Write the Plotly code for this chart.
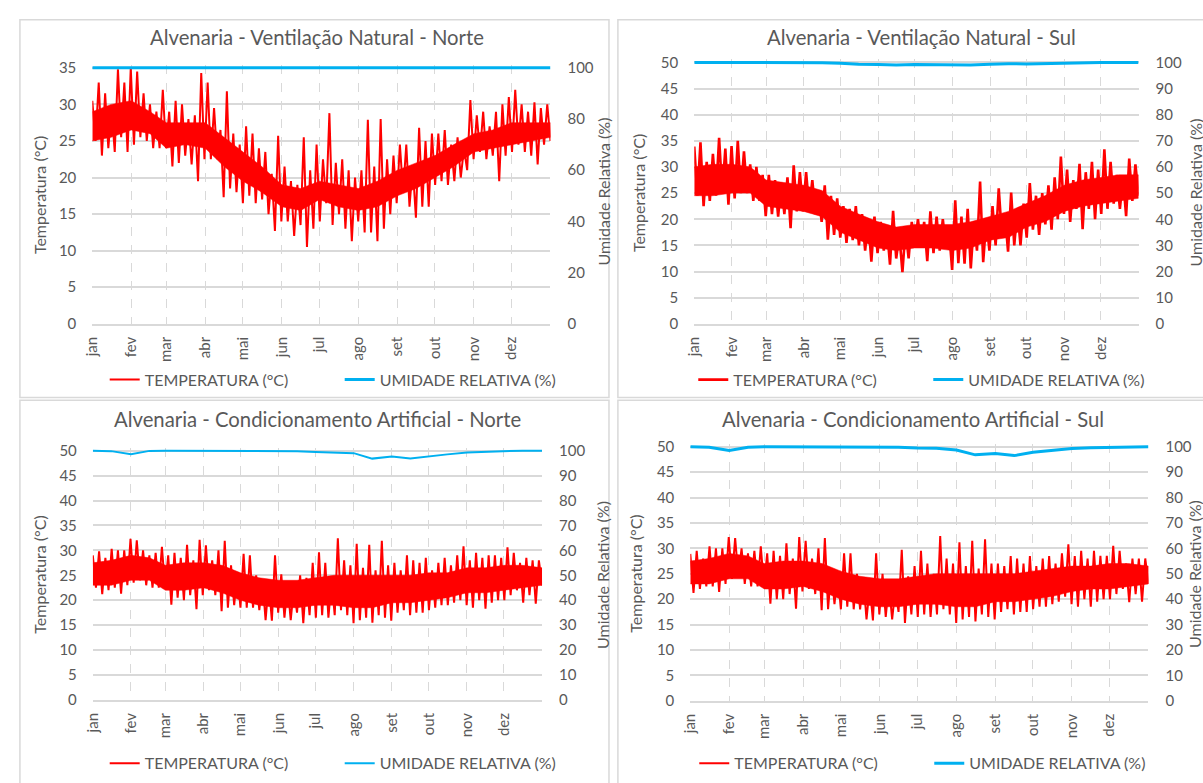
import numpy as np
import plotly.graph_objects as go

W, H = 1203, 783


def fx(p):
    return p / W


def fy(p):
    return 1 - p / H


MONTHS = ["jan", "fev", "mar", "abr", "mai", "jun", "jul", "ago", "set", "out", "nov", "dez"]
MONTH_START = [0, 31, 59, 90, 120, 151, 181, 212, 243, 273, 304, 334]

TITLES = [
    "Alvenaria - Ventilação Natural - Norte",
    "Alvenaria - Ventilação Natural - Sul",
    "Alvenaria - Condicionamento Artificial - Norte",
    "Alvenaria - Condicionamento Artificial - Sul",
]
SERIES_TEMP = "TEMPERATURA (°C)"
SERIES_HUM = "UMIDADE RELATIVA (%)"
Y_LEFT_TITLE = "Temperatura (°C)"
Y_RIGHT_TITLE = "Umidade Relativa (%)"

# ---- temperature peaks / troughs (6 of each per month) ----
vn_norte_tmax = [
    30.5, 33.0, 31.5, 29.5, 34.8, 33.0,
    35.0, 34.5, 31.5, 30.0, 29.0, 32.0,
    29.0, 30.5, 30.0, 28.0, 28.5, 34.3,
    33.0, 29.5, 26.5, 31.8, 26.0, 24.5,
    27.0, 26.0, 24.0, 23.5, 20.5, 25.7,
    21.5, 19.5, 19.0, 25.5, 21.0, 24.5,
    22.5, 28.8, 22.0, 22.5, 21.0, 20.0,
    21.0, 27.9, 21.5, 28.0, 22.5, 23.0,
    24.5, 24.5, 21.5, 26.8, 25.0, 26.0,
    26.0, 26.5, 24.5, 25.5, 24.0, 30.6,
    28.5, 29.0, 27.0, 29.0, 30.0, 31.0,
    32.0, 30.0, 29.0, 30.3, 29.5, 30.0,
]
vn_norte_tmin = [
    25.0, 23.0, 24.0, 23.5, 25.5, 23.5,
    24.5, 25.5, 25.0, 24.0, 24.0, 24.0,
    21.5, 22.0, 23.0, 21.8, 19.5, 22.5,
    22.5, 22.5, 17.3, 18.5, 18.0, 16.5,
    17.5, 16.5, 17.0, 15.0, 12.7, 14.0,
    14.0, 12.0, 13.5, 10.5, 13.0, 14.0,
    16.5, 13.5, 15.0, 13.0, 11.3, 14.0,
    12.5, 12.5, 11.3, 13.0, 15.0, 16.5,
    18.0, 16.0, 14.5, 16.0, 16.0, 19.0,
    19.5, 19.0, 19.5, 20.0, 21.0, 22.5,
    23.5, 22.5, 23.0, 19.5, 23.0, 23.5,
    24.5, 23.5, 23.0, 21.8, 24.5, 25.0,
]
vn_sul_tmax = [
    33.9, 34.7, 31.0, 32.5, 35.6, 33.5,
    34.0, 35.0, 33.0, 30.5, 30.0, 28.5,
    28.5, 27.5, 27.0, 28.0, 30.3, 29.0,
    29.0, 27.5, 25.0, 26.5, 24.5, 24.0,
    22.5, 22.0, 22.5, 21.0, 20.0, 20.5,
    19.5, 18.5, 21.6, 17.0, 18.0, 19.5,
    20.0, 19.5, 21.5, 20.5, 20.0, 18.0,
    23.6, 20.5, 22.0, 19.5, 27.2, 20.0,
    22.5, 25.9, 21.0, 25.1, 22.0, 23.0,
    26.9, 24.5, 25.0, 26.5, 28.0, 32.0,
    29.5, 27.5, 30.6, 29.0, 31.0, 29.5,
    33.4, 31.0, 28.5, 28.0, 31.6, 30.5,
]
vn_sul_tmin = [
    24.5, 22.5, 23.5, 24.5, 25.0, 22.8,
    24.0, 25.0, 25.0, 23.5, 23.5, 20.6,
    21.0, 20.5, 21.0, 18.3, 21.5, 21.5,
    22.0, 21.0, 19.5, 16.1, 17.0, 16.5,
    15.5, 16.0, 15.0, 14.0, 11.9, 13.5,
    14.0, 11.3, 12.5, 9.9, 12.5, 15.0,
    15.0, 12.0, 13.5, 14.0, 14.5, 10.3,
    11.6, 11.5, 10.6, 14.0, 11.8, 14.0,
    15.0, 17.0, 13.8, 15.0, 15.0, 16.5,
    18.0, 17.0, 19.0, 18.0, 20.0, 21.0,
    19.5, 22.0, 18.1, 22.0, 20.0, 21.0,
    22.0, 23.0, 22.0, 20.6, 23.5, 24.5,
]
ca_norte_tmax = [
    29.0, 29.8, 28.5, 30.3, 30.0, 30.0,
    32.3, 32.0, 30.0, 29.0, 29.5, 30.7,
    29.0, 29.5, 28.5, 31.1, 28.0, 32.1,
    31.0, 28.0, 30.0, 31.9, 27.0, 25.5,
    29.3, 29.0, 25.0, 24.0, 23.5, 29.0,
    25.2, 23.0, 22.5, 25.0, 24.5, 27.5,
    29.6, 27.5, 24.0, 32.4, 28.0, 27.0,
    31.3, 26.5, 31.1, 26.0, 31.9, 27.0,
    27.5, 26.0, 29.0, 28.0, 27.5, 28.5,
    26.0, 27.5, 28.5, 27.0, 29.0, 30.8,
    28.0, 29.5, 28.5, 29.0, 29.0, 28.5,
    30.6, 29.5, 27.5, 28.5, 28.0, 28.0,
]
ca_norte_tmin = [
    22.5, 21.2, 22.0, 22.5, 21.3, 23.0,
    23.5, 24.0, 23.0, 22.5, 22.5, 22.5,
    19.1, 20.5, 20.0, 21.0, 18.2, 21.0,
    22.0, 21.0, 17.8, 18.5, 19.0, 18.5,
    18.5, 18.5, 18.0, 16.0, 15.9, 17.5,
    16.5, 16.0, 17.5, 15.4, 17.0, 16.5,
    17.0, 16.5, 17.0, 18.0, 17.0, 15.4,
    16.0, 16.5, 15.5, 17.0, 16.5, 15.9,
    17.5, 18.0, 17.0, 17.5, 17.5, 18.0,
    18.5, 19.0, 19.0, 19.5, 20.0, 19.0,
    18.5, 20.0, 18.3, 19.5, 20.0, 20.0,
    21.0, 22.0, 19.5, 21.0, 19.3, 23.0,
]
ca_sul_tmax = [
    28.9, 29.5, 28.0, 30.4, 30.0, 30.0,
    32.2, 32.0, 30.0, 29.0, 29.5, 30.4,
    29.0, 29.5, 28.5, 31.0, 28.0, 32.2,
    31.5, 28.0, 30.0, 32.0, 26.0, 25.0,
    29.0, 29.0, 25.0, 24.0, 22.5, 29.0,
    25.0, 23.0, 22.0, 29.7, 24.5, 26.5,
    29.5, 27.0, 25.0, 32.4, 28.0, 27.0,
    31.2, 26.5, 31.5, 26.0, 31.8, 27.0,
    27.0, 26.5, 28.5, 28.0, 27.0, 28.5,
    26.5, 28.0, 28.5, 27.0, 29.0, 30.8,
    28.5, 29.5, 28.0, 29.5, 28.5, 28.5,
    30.5, 29.5, 27.0, 28.0, 28.0, 28.0,
]
ca_sul_tmin = [
    21.2, 22.0, 22.5, 22.5, 21.4, 23.0,
    24.0, 24.5, 23.0, 22.5, 22.5, 22.5,
    19.1, 20.0, 20.0, 21.0, 18.1, 21.5,
    22.0, 21.0, 17.8, 18.0, 19.0, 18.0,
    18.5, 18.0, 18.0, 16.0, 15.8, 17.0,
    16.5, 16.0, 17.5, 15.3, 17.0, 16.5,
    17.0, 16.5, 17.0, 18.0, 17.0, 15.3,
    16.0, 16.5, 15.6, 17.0, 16.5, 16.0,
    17.5, 18.0, 17.0, 17.5, 17.5, 18.0,
    18.5, 18.5, 19.0, 19.5, 20.5, 19.0,
    18.5, 20.0, 18.5, 19.5, 20.0, 20.0,
    21.0, 22.0, 19.4, 21.0, 19.5, 23.0,
]

# ---- dense core of the daily temperature band, read on the 1st / 16th of each month + 31 Dec ----
vn_norte_core_hi = [29.0, 30.0, 30.5, 29.0, 27.5, 27.5, 27.5, 25.5, 23.5, 21.5, 19.0, 18.5, 19.5,
                    19.0, 18.5, 19.5, 21.0, 22.0, 23.0, 24.5, 26.0, 26.5, 27.5, 27.5, 27.5]
vn_norte_core_lo = [25.0, 25.5, 26.5, 26.0, 24.0, 24.5, 24.0, 21.5, 19.5, 18.0, 16.0, 15.5, 17.0,
                    16.0, 15.5, 16.0, 17.5, 18.5, 20.0, 21.5, 23.5, 24.0, 24.5, 25.0, 25.5]
vn_sul_core_hi = [30.0, 30.5, 30.5, 30.0, 27.5, 27.0, 26.5, 25.5, 22.5, 21.0, 19.5, 18.5, 19.0,
                  19.0, 19.0, 19.5, 20.5, 21.5, 23.0, 24.5, 26.5, 27.5, 28.0, 28.5, 28.5]
vn_sul_core_lo = [24.5, 24.5, 25.0, 25.0, 22.5, 22.0, 21.5, 20.5, 17.5, 16.0, 14.5, 14.0, 14.5,
                  14.5, 14.0, 14.5, 16.0, 16.5, 18.5, 19.5, 21.5, 22.5, 23.0, 23.5, 24.0]
ca_norte_core_hi = [27.5, 28.0, 29.0, 28.5, 27.0, 27.5, 27.5, 27.0, 25.5, 24.5, 24.0, 24.0, 24.5,
                    25.0, 25.0, 25.0, 25.0, 25.0, 25.5, 25.5, 26.5, 26.5, 27.0, 27.0, 26.5]
ca_norte_core_lo = [23.0, 23.0, 24.0, 24.0, 22.0, 22.0, 22.5, 21.5, 20.0, 19.0, 18.5, 18.5, 19.0,
                    19.0, 18.5, 18.5, 19.5, 19.5, 20.0, 20.5, 21.5, 21.5, 22.0, 22.5, 23.0]
ca_sul_core_hi = [27.5, 28.0, 29.0, 28.5, 27.0, 27.5, 27.5, 27.0, 25.5, 24.5, 24.0, 24.0, 24.5,
                  25.0, 25.0, 25.0, 25.0, 25.0, 25.5, 26.0, 26.5, 26.5, 27.0, 27.0, 26.5]
ca_sul_core_lo = [23.0, 23.0, 24.0, 24.0, 22.0, 22.0, 22.5, 21.5, 20.0, 19.0, 18.5, 18.5, 19.0,
                  19.0, 18.5, 18.5, 19.5, 19.5, 20.0, 20.5, 21.5, 22.0, 22.0, 22.5, 23.0]

# ---- relative humidity read on the 1st / 16th of each month + 31 Dec ----
vn_norte_hum = [100.0] * 25
vn_sul_hum = [100, 100, 100, 100, 100, 100, 100, 99.9, 99.7, 99.3, 99.2, 99.0, 99.2,
              99.1, 99.1, 99.0, 99.3, 99.5, 99.4, 99.6, 99.7, 99.9, 100, 100, 100]
ca_norte_hum = [100, 99.8, 98.6, 99.9, 100, 100, 100, 100, 100, 100, 100, 99.8, 99.5,
                99.4, 99.0, 96.8, 97.6, 96.8, 97.8, 98.5, 99.3, 99.6, 99.8, 100, 100]
ca_sul_hum = [100, 99.8, 98.5, 99.8, 100, 100, 100, 100, 100, 100, 100, 99.8, 99.5,
              99.4, 98.7, 96.8, 97.3, 96.5, 97.8, 98.4, 99.3, 99.6, 99.8, 100, 100]

FONT = "Lato"
GREY = "#595959"
GRID = "#D9D9D9"
RED = "#FF0000"
BLUE = "#00B0F0"

# layout positions, in pixels of the 1203x783 canvas
panels = [
    dict(tmax=vn_norte_tmax, tmin=vn_norte_tmin, chi=vn_norte_core_hi, clo=vn_norte_core_lo,
         hum=vn_norte_hum, ymax=35, rdt=20,
         x0=83, x1=545, yb=323, yt=62, tx=310, ty=31, lt=(30, 192), rt=(598, 188),
         lg=(95.5, 380), tw=2.0, hw=3.0, box=(10, 604, 13, 398)),
    dict(tmax=vn_sul_tmax, tmin=vn_sul_tmin, chi=vn_sul_core_hi, clo=vn_sul_core_lo,
         hum=vn_sul_hum, ymax=50, rdt=10,
         x0=690, x1=1138, yb=323, yt=56.5, tx=919, ty=31, lt=(634, 190), rt=(1195, 189),
         lg=(689, 380), tw=2.6, hw=3.0, box=(613, 1215, 13, 398)),
    dict(tmax=ca_norte_tmax, tmin=ca_norte_tmin, chi=ca_norte_core_hi, clo=ca_norte_core_lo,
         hum=ca_norte_hum, ymax=50, rdt=10,
         x0=83.5, x1=536.5, yb=706.5, yt=452.3, tx=310, ty=420, lt=(30, 579), rt=(598, 579),
         lg=(95.5, 771), tw=2.0, hw=2.0, box=(10, 604, 401, 795)),
    dict(tmax=ca_sul_tmax, tmin=ca_sul_tmin, chi=ca_sul_core_hi, clo=ca_sul_core_lo,
         hum=ca_sul_hum, ymax=50, rdt=10,
         x0=686, x1=1148, yb=707.3, yt=448.3, tx=911, ty=420, lt=(631, 578), rt=(1195, 578),
         lg=(690, 771), tw=2.0, hw=3.0, box=(613, 1215, 401, 795)),
]

EXT = 0.012

fig = go.Figure()
layout = dict(
    width=W, height=H, margin=dict(l=0, r=0, t=0, b=0),
    paper_bgcolor="white", plot_bgcolor="rgba(0,0,0,0)",
    font=dict(family=FONT, color=GREY, size=15),
    shapes=[], annotations=[], showlegend=True,
)

temp_x = np.linspace(0, 365, 2 * len(vn_norte_tmax))
sample_x = []
for s in MONTH_START:
    sample_x += [s, s + 15]
sample_x.append(365)

for i, p in enumerate(panels):
    xi = i + 1
    yl = 2 * i + 1
    yr = 2 * i + 2
    xname = "x" if xi == 1 else f"x{xi}"
    ylname = "y" if yl == 1 else f"y{yl}"
    yrname = f"y{yr}"
    lgname = "legend" if i == 0 else f"legend{i + 1}"

    zig = []
    for hi, lo in zip(p["tmax"], p["tmin"]):
        zig += [hi, lo]

    # peaks and troughs (legend entry)
    fig.add_trace(go.Scatter(
        x=temp_x, y=zig, mode="lines", name=SERIES_TEMP,
        line=dict(color=RED, width=p["tw"]), xaxis=xname, yaxis=ylname,
        legend=lgname, hoverinfo="skip"))
    # dense core of the daily band: upper edge forward, lower edge back
    fig.add_trace(go.Scatter(
        x=list(sample_x) + list(sample_x[::-1]),
        y=list(p["chi"]) + list(p["clo"][::-1]),
        mode="lines", line=dict(color=RED, width=0.5), fill="toself", fillcolor=RED,
        xaxis=xname, yaxis=ylname, showlegend=False, legend=lgname, hoverinfo="skip"))
    fig.add_trace(go.Scatter(
        x=sample_x, y=p["hum"], mode="lines", name=SERIES_HUM,
        line=dict(color=BLUE, width=p["hw"]), xaxis=xname, yaxis=yrname,
        legend=lgname, hoverinfo="skip"))

    h = p["yb"] - p["yt"]
    top_px = p["yt"] - h * EXT
    ydom = [fy(p["yb"]), fy(top_px)]

    tickfont = dict(family=FONT, size=15, color=GREY)
    layout["xaxis" if xi == 1 else f"xaxis{xi}"] = dict(
        domain=[fx(p["x0"]), fx(p["x1"])], anchor=ylname, range=[0, 365],
        tickmode="array", tickvals=MONTH_START + [365], ticktext=MONTHS + [""],
        tickangle=-90, showgrid=True, gridcolor=GRID, griddash="dash", gridwidth=1,
        showline=True, linecolor=GRID, linewidth=2, ticks="", ticklabelstandoff=5,
        zeroline=False, tickfont=tickfont, fixedrange=True)
    layout["yaxis" if yl == 1 else f"yaxis{yl}"] = dict(
        domain=ydom, anchor=xname, range=[0, p["ymax"] * (1 + EXT)],
        tickmode="linear", tick0=0, dtick=5, showgrid=True, gridcolor=GRID,
        gridwidth=2, zeroline=False, showline=False, ticks="", ticklabelstandoff=15,
        tickfont=tickfont, fixedrange=True)
    layout[f"yaxis{yr}"] = dict(
        overlaying=ylname, side="right", anchor=xname, range=[0, 100 * (1 + EXT)],
        tickmode="linear", tick0=0, dtick=p["rdt"], showgrid=False, zeroline=False,
        showline=False, ticks="", ticklabelstandoff=16, tickfont=tickfont, fixedrange=True)

    layout[lgname] = dict(
        orientation="h", x=fx(p["lg"][0]), y=fy(p["lg"][1]), xanchor="left",
        yanchor="middle", traceorder="normal",
        font=dict(family=FONT, size=16, color=GREY),
        bgcolor="rgba(0,0,0,0)", entrywidth=190, entrywidthmode="pixels",
        tracegroupgap=0)

    bx0, bx1, by0, by1 = p["box"]
    layout["shapes"].append(dict(
        type="rect", xref="paper", yref="paper", x0=fx(bx0), x1=fx(bx1),
        y0=fy(by1), y1=fy(by0), line=dict(color=GRID, width=1.5),
        fillcolor="rgba(0,0,0,0)", layer="below"))

    layout["annotations"].append(dict(
        text=TITLES[i], xref="paper", yref="paper", x=fx(p["tx"]), y=fy(p["ty"]),
        xanchor="center", yanchor="middle", showarrow=False,
        font=dict(family=FONT, size=20.3, color=GREY)))
    layout["annotations"].append(dict(
        text=Y_LEFT_TITLE, xref="paper", yref="paper", x=fx(p["lt"][0]),
        y=fy(p["lt"][1]), xanchor="center", yanchor="middle", textangle=-90,
        showarrow=False, font=dict(family=FONT, size=16, color=GREY)))
    layout["annotations"].append(dict(
        text=Y_RIGHT_TITLE, xref="paper", yref="paper", x=fx(p["rt"][0]),
        y=fy(p["rt"][1]), xanchor="center", yanchor="middle", textangle=-90,
        showarrow=False, font=dict(family=FONT, size=16, color=GREY)))

fig.update_layout(**layout)

fig.write_html(
    "out.html",
    config={"displayModeBar": False, "staticPlot": True},
    post_script="document.body.style.margin='0';document.body.style.overflow='hidden';",
)
